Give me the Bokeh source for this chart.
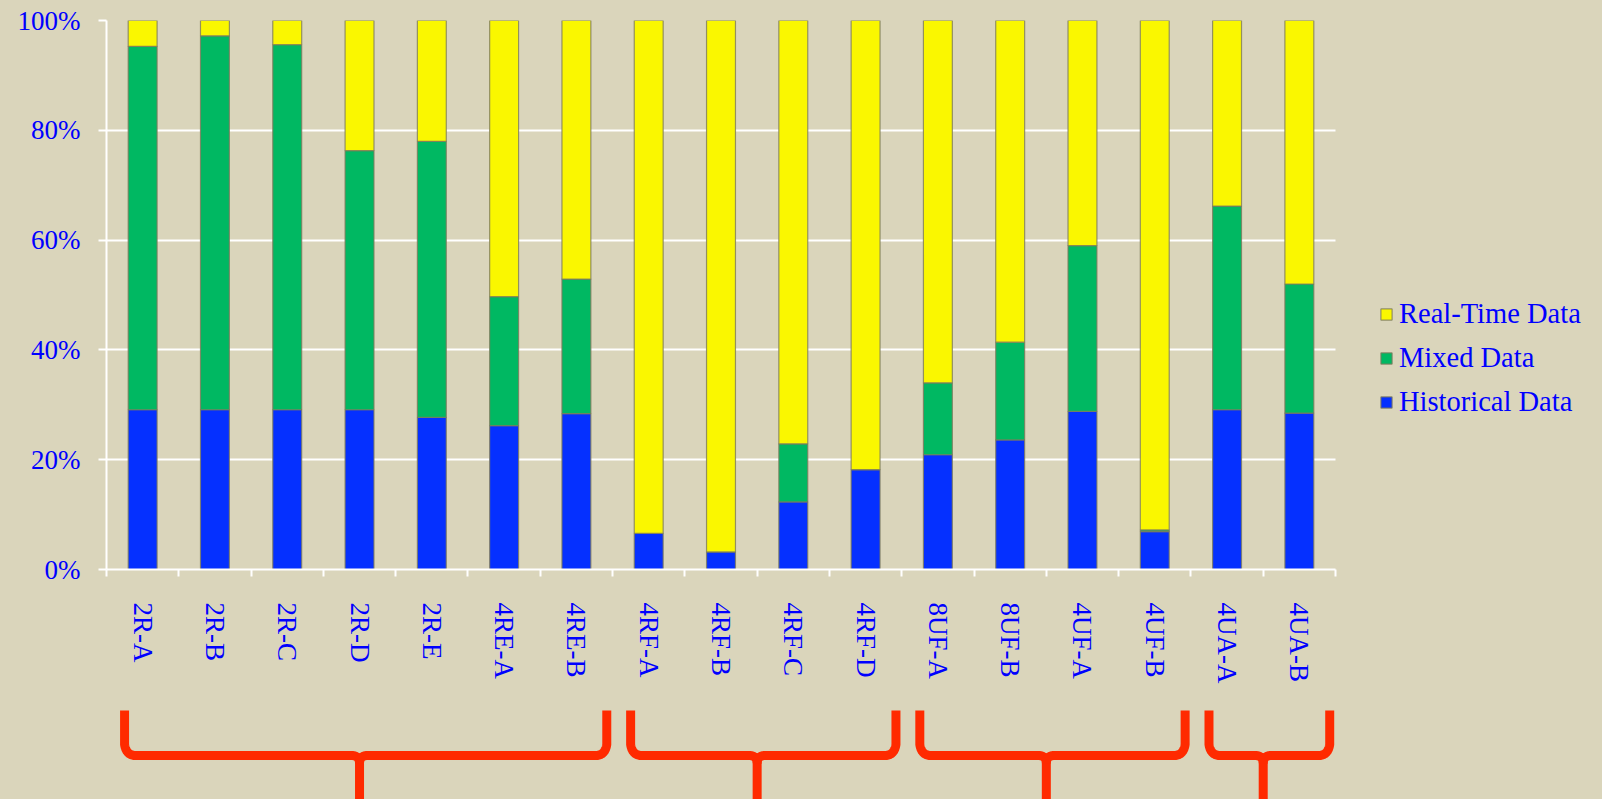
from bokeh.plotting import figure
from bokeh.models import (FixedTicker, PrintfTickFormatter, Legend, LegendItem,
                          Range1d, ColumnDataSource)
from bokeh.layouts import column
from bokeh.embed import file_html
from bokeh.resources import INLINE
import numpy as np

# ---------------- data ----------------
categories = ["2R-A", "2R-B", "2R-C", "2R-D", "2R-E", "4RE-A", "4RE-B",
              "4RF-A", "4RF-B", "4RF-C", "4RF-D",
              "8UF-A", "8UF-B", "4UF-A", "4UF-B",
              "4UA-A", "4UA-B"]
historical = [29.1, 29.1, 29.1, 29.1, 27.7, 26.2, 28.4,
              6.6, 3.2, 12.3, 18.2,
              20.9, 23.6, 28.8, 6.9,
              29.1, 28.5]
mixed = [66.2, 68.1, 66.5, 47.2, 50.3, 23.5, 24.5,
         0.0, 0.0, 10.6, 0.0,
         13.1, 17.8, 30.2, 0.3,
         37.1, 23.5]
realtime = [4.7, 2.8, 4.4, 23.7, 22.0, 50.3, 47.1,
            93.4, 96.8, 77.1, 81.8,
            66.0, 58.6, 41.0, 92.8,
            33.8, 48.0]
series_labels = ["Historical Data", "Mixed Data", "Real-Time Data"]
y_ticks = [0, 20, 40, 60, 80, 100]
# category index ranges grouped by the red braces
groups = [(0, 6), (7, 10), (11, 14), (15, 16)]

# ---------------- style ----------------
BG = "#DAD5BB"
TXT = "#0000FF"
FONT = "Liberation Serif"
COLORS = ["#0530FF", "#00B862", "#FAF700"]
BRACE = "#FF2A00"

W, H1, H2 = 1602, 690, 109
BL, BT, BB = 106, 20, 121
PLOT_W = 1229                      # width of the bar area in px
n = len(categories)
frame_w = W - BL
x_end = n * frame_w / PLOT_W        # extend range so legend fits in frame
xs = [i + 0.5 for i in range(n)]

source = ColumnDataSource(dict(x=xs, cat=categories, hist=historical,
                               mixed=mixed, rt=realtime))

p = figure(width=W, height=H1, x_range=Range1d(0, x_end), y_range=Range1d(0, 100),
           output_backend="svg", toolbar_location=None,
           min_border_left=BL, min_border_right=0,
           min_border_top=BT, min_border_bottom=BB,
           background_fill_color=BG, border_fill_color=BG,
           styles={"background-color": BG})
p.outline_line_color = None

rs = p.vbar_stack(["hist", "mixed", "rt"], x="x", width=0.40, color=COLORS,
                  source=source, line_color="#7d7a5c", line_width=1.2,
                  line_alpha=0.8)

# axes / grid
p.xgrid.visible = False
p.ygrid.ticker = FixedTicker(ticks=y_ticks)
p.ygrid.grid_line_color = "white"
p.ygrid.grid_line_width = 2
p.ygrid.cross_bounds = (0, n)

p.yaxis.ticker = FixedTicker(ticks=y_ticks)
p.yaxis.formatter = PrintfTickFormatter(format="%d%%")
p.yaxis.axis_line_color = "white"
p.yaxis.axis_line_width = 2
p.yaxis.major_tick_line_color = "white"
p.yaxis.major_tick_line_width = 2
p.yaxis.major_tick_out = 8
p.yaxis.major_tick_in = 0
p.yaxis.minor_tick_line_color = None
p.yaxis.major_label_standoff = 18

p.xaxis.ticker = FixedTicker(ticks=xs, minor_ticks=list(range(n + 1)))
p.xaxis.major_label_overrides = {x: c for x, c in zip(xs, categories)}
p.xaxis.major_label_orientation = "vertical"
p.xaxis.bounds = (0, n)
p.xaxis.axis_line_color = "white"
p.xaxis.axis_line_width = 2
p.xaxis.major_tick_line_color = None
p.xaxis.major_tick_out = 0
p.xaxis.major_tick_in = 0
p.xaxis.minor_tick_line_color = "white"
p.xaxis.minor_tick_line_width = 2
p.xaxis.minor_tick_out = 7
p.xaxis.minor_tick_in = 0
p.xaxis.major_label_standoff = 26

for ax in (p.xaxis[0], p.yaxis[0]):
    ax.major_label_text_font = FONT
    ax.major_label_text_font_size = "27px"
    ax.major_label_text_color = TXT

# legend (top to bottom: Real-Time, Mixed, Historical)
items = [LegendItem(label=series_labels[i], renderers=[rs[i]]) for i in (2, 1, 0)]
legend = Legend(items=items, location=(1273, 151), orientation="vertical",
                label_text_font=FONT, label_text_font_size="28.5px",
                label_text_color=TXT, glyph_width=14, glyph_height=14,
                label_standoff=6, spacing=12, padding=0, margin=0,
                background_fill_alpha=0, border_line_color=None)
p.add_layout(legend)

# ---------------- braces ----------------
b = figure(width=W, height=H2, x_range=p.x_range, y_range=Range1d(0, H2),
           output_backend="svg", toolbar_location=None,
           min_border_left=BL, min_border_right=0,
           min_border_top=0, min_border_bottom=0,
           x_axis_location=None, y_axis_location=None,
           background_fill_color=BG, border_fill_color=BG,
           styles={"background-color": BG})
b.outline_line_color = None
b.xgrid.visible = False
b.ygrid.visible = False

ppu = PLOT_W / n  # pixels per category unit
y_top, y_mid, y_bot = 89, 44, 0
r_arm, r_mid = 11.0, 8.0
t = np.linspace(0, 1, 14)


def qbez(p0, c, p1):
    x = (1 - t) ** 2 * p0[0] + 2 * (1 - t) * t * c[0] + t ** 2 * p1[0]
    y = (1 - t) ** 2 * p0[1] + 2 * (1 - t) * t * c[1] + t ** 2 * p1[1]
    return list(x), list(y)


ra, rm = r_arm / ppu, r_mid / ppu
bx, by = [], []
for g0, g1 in groups:
    x0 = g0 + 0.25
    x1 = g1 + 1 - 0.08
    xc = (g0 + g1 + 1) / 2.0
    X, Y = [x0], [y_top]
    for seg in (qbez((x0, y_mid + r_arm), (x0 + ra * 0.15, y_mid), (x0 + ra, y_mid)),
                qbez((xc - rm, y_mid), (xc, y_mid), (xc, y_mid - r_mid))):
        X += seg[0]
        Y += seg[1]
    X += [xc]
    Y += [y_bot]
    bx.append(X)
    by.append(Y)
    X, Y = [xc], [y_mid - r_mid]
    for seg in (qbez((xc, y_mid - r_mid), (xc, y_mid), (xc + rm, y_mid)),
                qbez((x1 - ra, y_mid), (x1 - ra * 0.15, y_mid), (x1, y_mid + r_arm))):
        X += seg[0]
        Y += seg[1]
    X += [x1]
    Y += [y_top]
    bx.append(X)
    by.append(Y)

b.multi_line(bx, by, line_color=BRACE, line_width=9, line_join="round",
             line_cap="butt")

layout = column(p, b, spacing=0, styles={"background-color": BG})
open("out.html", "w").write(file_html(layout, INLINE))
